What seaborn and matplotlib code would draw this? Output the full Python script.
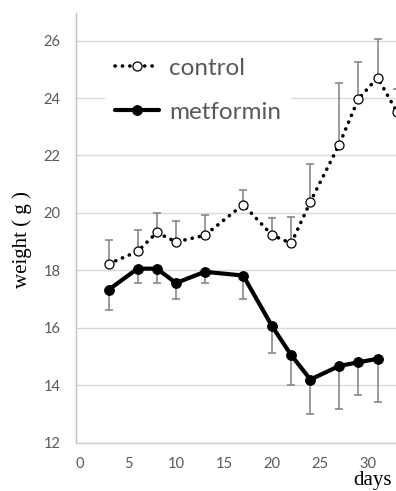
import numpy as np
import pandas as pd
import matplotlib
matplotlib.use("Agg")
import matplotlib.pyplot as plt
import seaborn as sns

# days of measurement
ctrl_days = [3, 6, 8, 10, 13, 17, 20, 22, 24, 27, 29, 31, 33]
met_days = [3, 6, 8, 10, 13, 17, 20, 22, 24, 27, 29, 31]

# body weight (g), mean and error (one-sided)
ctrl_weight = [18.23, 18.66, 19.32, 18.99, 19.22, 20.29, 19.23, 18.94, 20.39, 22.38, 23.97, 24.71, 23.53]
ctrl_err = [0.82, 0.76, 0.68, 0.72, 0.70, 0.52, 0.58, 0.92, 1.32, 2.15, 1.28, 1.34, 0.78]
met_weight = [17.33, 18.06, 18.06, 17.56, 17.95, 17.82, 16.06, 15.05, 14.20, 14.67, 14.80, 14.92]
met_err = [0.70, 0.50, 0.50, 0.55, 0.40, 0.80, 0.95, 1.05, 1.20, 1.50, 1.13, 1.50]

yticks = [12, 14, 16, 18, 20, 22, 24, 26]
xticks = [0, 5, 10, 15, 20, 25, 30]

sns.set_style("white")
plt.rcParams['font.family'] = ['Lato', 'DejaVu Sans']

ctrl = pd.DataFrame({'day': ctrl_days, 'weight': ctrl_weight, 'err': ctrl_err})
met = pd.DataFrame({'day': met_days, 'weight': met_weight, 'err': met_err})

fig = plt.figure(figsize=(3.96, 4.91), dpi=100)
ax = fig.add_axes([0.1919, 0.0984, 0.8081, 0.8756])

# error bars: control upward, metformin downward
ax.errorbar(ctrl['day'], ctrl['weight'], yerr=[np.zeros(len(ctrl)), ctrl['err']],
            fmt='none', ecolor='#808080', elinewidth=1.1, capsize=3.2, capthick=1.1, zorder=2)
ax.errorbar(met['day'], met['weight'], yerr=[met['err'], np.zeros(len(met))],
            fmt='none', ecolor='#808080', elinewidth=1.1, capsize=3.2, capthick=1.1, zorder=2)

sns.lineplot(data=ctrl, x='day', y='weight', ax=ax, color='black', sort=False,
             estimator=None, linewidth=2.6, linestyle=(0, (0.05, 2.0)),
             dash_capstyle='round', marker='o', markersize=6.5,
             markerfacecolor='white', markeredgecolor='black', markeredgewidth=0.9,
             label='control', zorder=3)
sns.lineplot(data=met, x='day', y='weight', ax=ax, color='black', sort=False,
             estimator=None, linewidth=3.0, marker='o', markersize=7,
             markerfacecolor='black', markeredgecolor='black',
             label='metformin', zorder=3)

ax.set_xlim(-0.42, 32.92)
ax.set_ylim(12, 26.97)
ax.set_yticks(yticks)
ax.set_xticks(xticks)
ax.yaxis.grid(True, color='#d9d9d9', linewidth=1.0)
ax.set_axisbelow(True)
ax.set_xlabel('')
ax.set_ylabel('')

for s in ['top', 'right']:
    ax.spines[s].set_visible(False)
ax.spines['left'].set_color('#bfbfbf')
ax.spines['left'].set_linewidth(1.0)
ax.spines['bottom'].set_color('#cfcfcf')
ax.spines['bottom'].set_linewidth(1.0)
ax.spines['bottom'].set_linestyle((0, (2, 1)))

ax.tick_params(axis='y', length=0, pad=11, labelsize=10.5, labelcolor='#595959')
ax.tick_params(axis='x', direction='in', length=4, color='#cfcfcf', pad=10,
               labelsize=10.5, labelcolor='#595959')

leg = ax.legend(loc='upper left', bbox_to_anchor=(0.09, 0.918), borderaxespad=0,
                fontsize=17.5, frameon=True, facecolor='white', edgecolor='none',
                framealpha=1, handlelength=1.85, handletextpad=0.4,
                labelspacing=0.95, borderpad=0.4, fancybox=False)
for t in leg.get_texts():
    t.set_color('#595959')
leg.set_zorder(5)

fig.text(22 / 396, 1 - 240 / 491, 'weight ( g )', rotation=90, ha='center', va='center',
         family='Liberation Serif', fontsize=15, color='black')
fig.text(373 / 396, 1 - 481 / 491, 'days', ha='center', va='center',
         family='Liberation Serif', fontsize=15, color='black')

fig.savefig('out.png', dpi=100)
